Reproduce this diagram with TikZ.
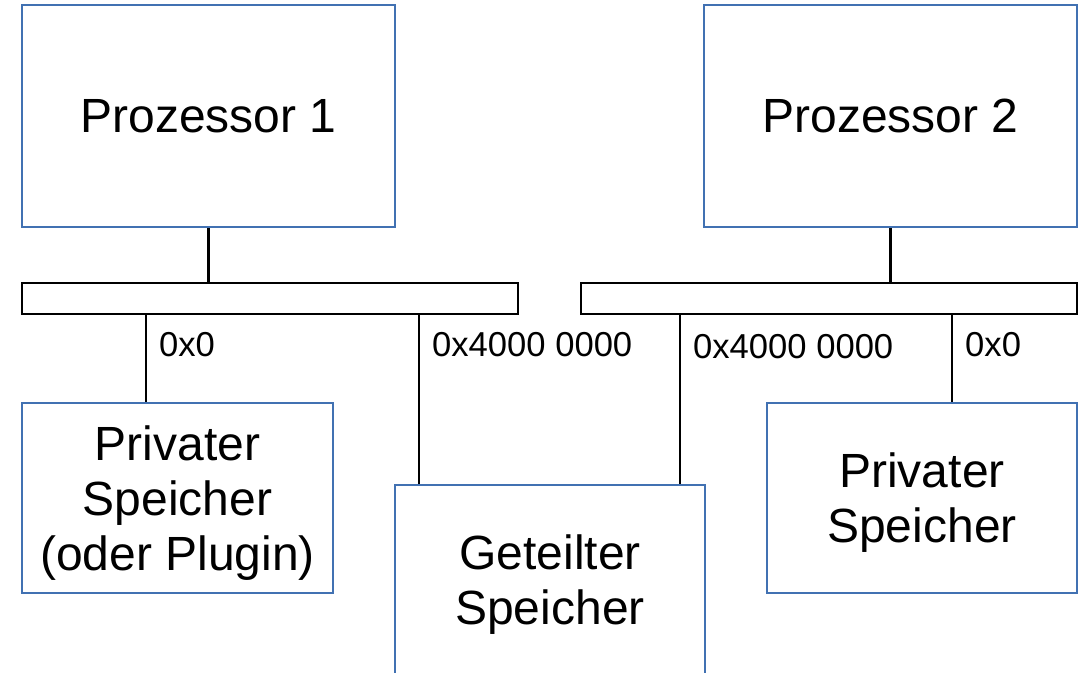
\documentclass[tikz,border=0pt]{standalone}
\usepackage{fontspec}
\setmainfont{Liberation Sans}
\definecolor{boxblue}{RGB}{65,113,178}
% invisible strut that lowers the text block a little
\newcommand{\lowstrut}{\rule{0pt}{44pt}}
\begin{document}
\begin{tikzpicture}[x=1pt,y=-1pt,
  unit/.style={draw=boxblue, line width=2pt, inner sep=0pt, align=center,
    font=\fontsize{48}{55}\selectfont},
  bus/.style={draw=black, line width=2.2pt, inner sep=0pt, minimum width=496pt, minimum height=31pt},
  wire/.style={draw=black, line width=2.2pt},
  addr/.style={anchor=west, inner sep=0pt, font=\fontsize{34.6}{40}\selectfont}]
\useasboundingbox (0,0) rectangle (1081,672);

% processors
\node[unit, minimum width=373pt, minimum height=222pt] (p1) at (208.5,116) {Prozessor 1};
\node[unit, minimum width=373pt, minimum height=222pt] (p2) at (890.5,116) {Prozessor 2};

% buses
\node[bus] (bus1) at (270,298.5) {};
\node[bus] (bus2) at (829,298.5) {};

% memories
\node[unit, minimum width=311pt, minimum height=190pt] (priv1) at (177.5,498) {\lowstrut Privater\\Speicher\\(oder Plugin)};
\node[unit, minimum width=310pt, minimum height=190pt] (shared) at (550,580) {\lowstrut Geteilter\\Speicher};
\node[unit, minimum width=310pt, minimum height=190pt] (priv2) at (922,498) {\lowstrut Privater\\Speicher};

% bus taps
\coordinate (t1) at (146,0);
\coordinate (t2) at (419,0);
\coordinate (t3) at (680,0);
\coordinate (t4) at (952,0);

\draw[wire] (p1.south) -- (p1.south |- bus1.north);
\draw[wire] (p2.south) -- (p2.south |- bus2.north);
\draw[wire] (t1 |- bus1.south) -- (t1 |- priv1.north);
\draw[wire] (t2 |- bus1.south) -- (t2 |- shared.north);
\draw[wire] (t3 |- bus2.south) -- (t3 |- shared.north);
\draw[wire] (t4 |- bus2.south) -- (t4 |- priv2.north);

% address labels
\node[addr] (a1) at (159,345) {0x0};
\node[addr] (a2) at (432,345) {0x4000 0000};
\node[addr] (a3) at (693,347) {0x4000 0000};
\node[addr] (a4) at (965,345) {0x0};
\end{tikzpicture}
\end{document}
